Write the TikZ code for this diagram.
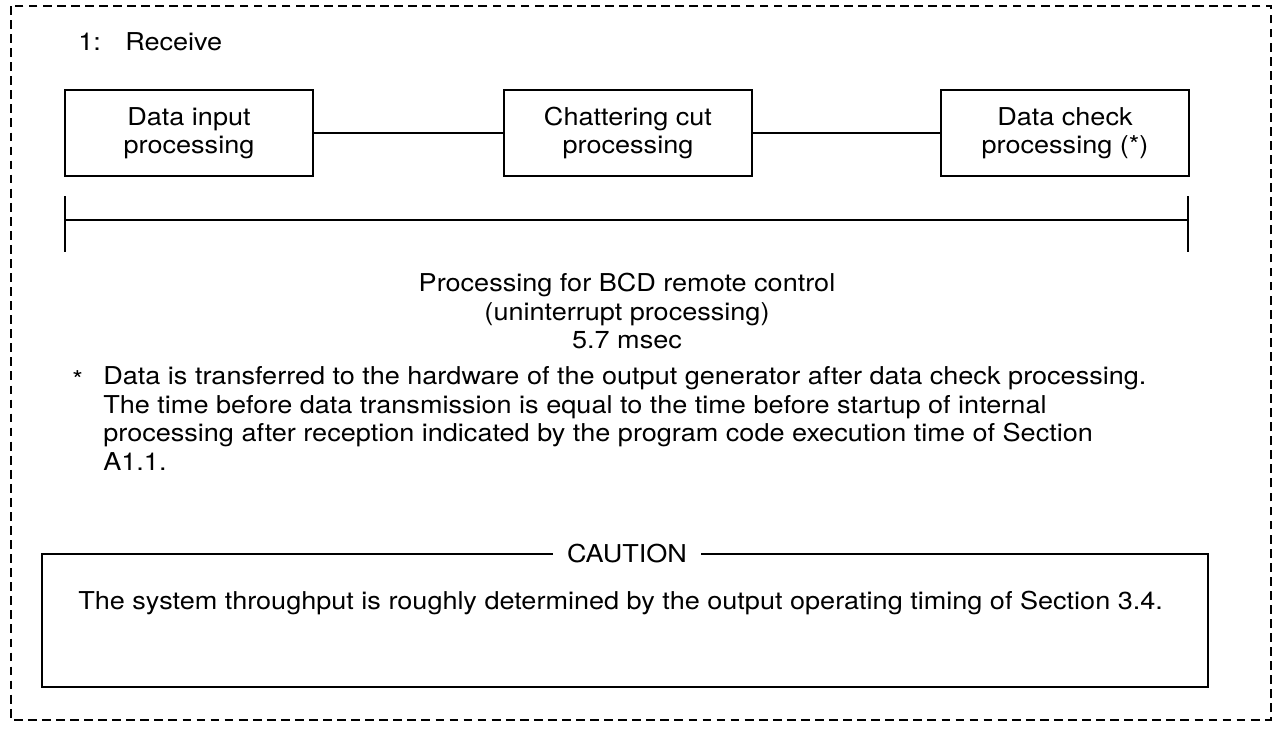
\documentclass[tikz,border=0pt]{standalone}
\usepackage{fontspec}
\setmainfont[FakeStretch=1.1]{TeX Gyre Heros}
\usetikzlibrary{positioning}

\begin{document}
\begin{tikzpicture}[
      x=0.02cm, y=-0.02cm,
      every node/.style={font=\fontsize{14}{16.2}\selectfont, inner sep=0pt},
      procbox/.style={draw, line width=0.9pt, minimum width=4.96cm, minimum height=1.72cm, align=center},
      rule/.style={line width=0.9pt}
    ]
      \useasboundingbox (0,0) rectangle (1283,730);
      % outer frame
      \draw[line width=0.9pt, dash pattern=on 5pt off 3pt] (11,6) rectangle (1271,720);

      \node[anchor=west] (num) at (78,42) {1:};
      \node[anchor=west] (title) at (125,42) {Receive};

      % processing chain
      \node[procbox] (input) at (189,133) {Data input\\processing};
      \node[procbox] (chatter) at (628,133) {Chattering cut\\processing};
      \node[procbox] (check) at (1065,133) {Data check\\processing (*)};
      \draw[rule] (input) -- (chatter);
      \draw[rule] (chatter) -- (check);

      % span of the whole processing
      \coordinate (spanL) at (65,220);
      \coordinate (spanR) at (1188,220);
      \coordinate (tickLt) at (65,196);
      \coordinate (tickLb) at (65,252);
      \coordinate (tickRt) at (1188,196);
      \coordinate (tickRb) at (1188,252);
      \draw[rule] (spanL) -- (spanR);
      \draw[rule] (tickLt) -- (tickLb);
      \draw[rule] (tickRt) -- (tickRb);
      \node[align=center] (span) at (627,311) {
        Processing for BCD remote control\\
        (uninterrupt processing)\\
        5.7 msec
      };

      % footnote
      \node[anchor=base west] (star) at (72,388) {*};
      \node[anchor=base west, align=left] (note) at (103,470) {
        Data is transferred to the hardware of the output generator after data check processing.\\
        The time before data transmission is equal to the time before startup of internal\\
        processing after reception indicated by the program code execution time of Section\\
        A1.1.
      };

      % caution frame
      \draw[rule] (42,554) rectangle (1208,687);
      \node[fill=white, inner xsep=8pt, inner ysep=2pt] (caution) at (627,554) {CAUTION};
      \node[anchor=west] (cbody) at (78,603) {The system throughput is roughly determined by the output operating timing of Section 3.4.};
    \end{tikzpicture}
\end{document}
